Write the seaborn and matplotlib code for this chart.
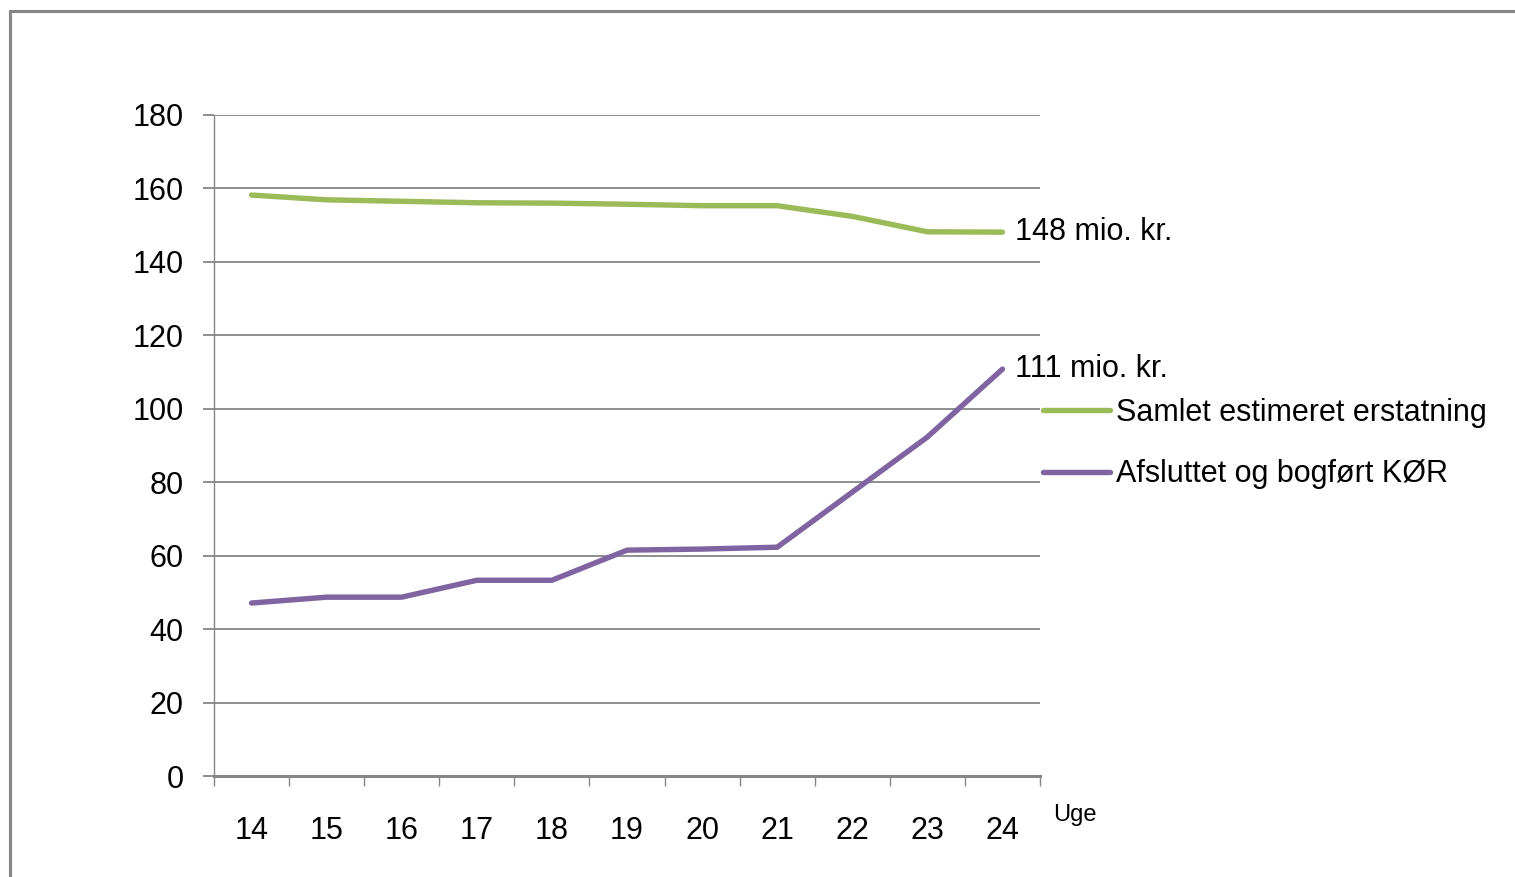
import numpy as np
import pandas as pd
import matplotlib
matplotlib.use("Agg")
import matplotlib.pyplot as plt
import seaborn as sns
from matplotlib.patches import Rectangle
from matplotlib.ticker import MultipleLocator, FixedLocator

# data
weeks = [14, 15, 16, 17, 18, 19, 20, 21, 22, 23, 24]
samlet = [158.2, 156.9, 156.5, 156.1, 156.0, 155.7, 155.3, 155.3, 152.4, 148.2, 148.1]
afsluttet = [47.1, 48.7, 48.7, 53.3, 53.3, 61.5, 61.8, 62.3, 77.3, 92.3, 110.8]
labels = ["Samlet estimeret erstatning", "Afsluttet og bogført KØR"]
colors = ["#9BBB59", "#8064A2"]

sns.set_theme(style="white")
plt.rcParams["font.family"] = ["Liberation Sans", "DejaVu Sans"]
plt.rcParams["text.color"] = "black"
plt.rcParams["xtick.labelcolor"] = "black"
plt.rcParams["ytick.labelcolor"] = "black"

fig = plt.figure(figsize=(15.15, 8.77), dpi=100)
ax = fig.add_axes([214 / 1515, 1 - 776 / 877, (1040 - 214) / 1515, (776 - 115) / 877])

grey = "#868686"

# outer chart frame
fig.patches.append(Rectangle((10 / 1515, -0.1), 1.2, 0.1 + 1 - 11 / 877,
                             transform=fig.transFigure, fill=False,
                             edgecolor=grey, linewidth=2.2))

for vals, lab, col in zip([samlet, afsluttet], labels, colors):
    sns.lineplot(x=weeks, y=vals, ax=ax, color=col, linewidth=3.9,
                 label=lab, solid_capstyle="round")

ax.set_xlim(13.5, 24.5)
ax.set_ylim(0, 180)
ax.yaxis.set_major_locator(MultipleLocator(20))
ax.grid(axis="y", color=grey, linewidth=1.3)
ax.set_axisbelow(True)

for s in ["top", "right"]:
    ax.spines[s].set_visible(False)
ax.spines["left"].set_color(grey)
ax.spines["left"].set_linewidth(1.0)
ax.spines["bottom"].set_color(grey)
ax.spines["bottom"].set_linewidth(2.2)

# tick marks between categories, labels at centres
ax.xaxis.set_major_locator(FixedLocator(np.arange(13.5, 25, 1)))
ax.xaxis.set_major_formatter(plt.NullFormatter())
ax.set_xticks(weeks, minor=True)
ax.set_xticklabels([str(w) for w in weeks], minor=True)
ax.tick_params(axis="x", which="major", direction="out", length=7, width=1, color=grey, bottom=True)
ax.tick_params(axis="x", which="minor", length=0, pad=29, labelsize=22)
ax.tick_params(axis="y", direction="out", length=8, width=1.3, color=grey, left=True, labelsize=22, pad=14)

ax.set_xlabel("")
ax.set_ylabel("")

# end-point labels
for vals in [samlet, afsluttet]:
    ax.annotate(f"{round(vals[-1])} mio. kr.", xy=(weeks[-1], vals[-1]),
                xytext=(9, 0), textcoords="offset points", ha="left", va="center",
                fontsize=22, annotation_clip=False)

fig.text(1053 / 1515, 1 - 815 / 877, "Uge", fontsize=17, ha="left", va="center")

ax.legend(loc="center left", bbox_to_anchor=(1043 / 1515, 1 - 443.5 / 877),
          bbox_transform=fig.transFigure, frameon=False, fontsize=22,
          handlelength=2.2, handletextpad=0.2, labelspacing=1.03,
          borderpad=0, borderaxespad=0)

fig.savefig("out.png", dpi=100)
